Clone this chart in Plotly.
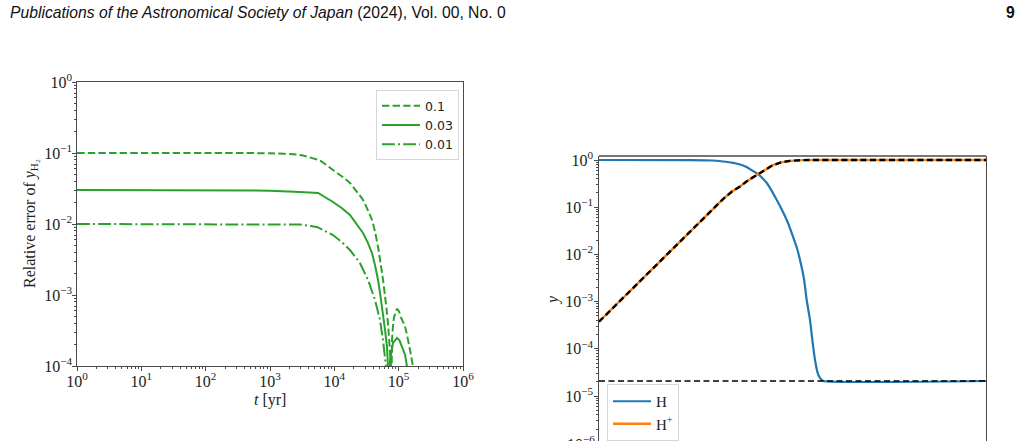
import plotly.graph_objects as go

# ---------------- data: left panel (relative error of y_H2) ----------------
t_01 = [1, 100, 1000, 2930, 5990, 9530, 13000, 17500, 22000, 27900, 33000, 38500, 43000, 47800,
        52000, 57100, 61500, 65900, 70000, 73400, 76000, 77000, 77500, 78900, 84700, 94300,
        101000, 109000, 126000, 150000, 167000, 185000]
err_01 = [0.1, 0.1, 0.099, 0.0937, 0.078, 0.0577, 0.047, 0.0378, 0.029, 0.0218, 0.0158, 0.0114,
          0.0077, 0.00474, 0.0029, 0.00163, 9.5e-4, 5.58e-4, 2.9e-4, 1.52e-4, 9.7e-5, 1e-7, 1e-7,
          2.32e-4, 4.8e-4, 6.35e-4, 5.9e-4, 4.8e-4, 3.54e-4, 1.68e-4, 9.7e-5, 5e-5]

t_003 = [1, 1000, 2930, 5600, 9530, 13000, 17500, 22000, 27900, 33000, 38500, 43000, 47800,
         52000, 57100, 61500, 65900, 68300, 69000, 69500, 73400, 81700, 94300, 103000, 113000,
         126000, 135000, 150000]
err_003 = [0.03, 0.0295, 0.0282, 0.0274, 0.0204, 0.0168, 0.0134, 0.0102, 0.00747, 0.0055, 0.00391,
           0.0026, 0.00163, 0.00098, 5.58e-4, 3.2e-4, 1.85e-4, 9.7e-5, 1e-7, 1e-7, 1.22e-4,
           2.11e-4, 2.48e-4, 2.3e-4, 1.85e-4, 1.43e-4, 9.7e-5, 5e-5]

t_001 = [1, 1000, 2930, 5380, 9530, 13000, 17500, 25000, 33400, 42900, 51300, 57100, 63600, 64500]
err_001 = [0.01, 0.0099, 0.0098, 0.00908, 0.0070, 0.0056, 0.0043, 0.00282, 0.00163, 8.51e-4,
           4.45e-4, 2.32e-4, 9.7e-5, 1e-7]

left_labels = ["0.1", "0.03", "0.01"]

# ---------------- data: right panel (abundances) ----------------
t_hp = [1, 302, 457, 661, 955, 1445, 2089, 3020, 4365, 6607, 12023, 26300, 5.5e7]
y_hp = [3.75e-4, 0.148, 0.215, 0.275, 0.37, 0.48, 0.62, 0.78, 0.89, 0.96, 0.995, 1.0, 1.0]

t_h = [1, 66.1, 182, 302, 457, 661, 912, 1047, 1514, 2291, 3311, 4571, 6026, 7586, 9120, 10470,
       12590, 14256, 16596, 18793, 20893, 23659, 27164, 30620, 5.5e7]
y_h = [1.0, 0.995, 0.975, 0.93, 0.88, 0.80, 0.70, 0.64, 0.50, 0.321, 0.167, 0.0873, 0.0463,
       0.0237, 0.0135, 7.6e-3, 3.0e-3, 1.08e-3, 4.08e-4, 1.33e-4, 5.8e-5, 3.07e-5, 2.29e-5,
       2.08e-5, 2.08e-5]

t_eq = [1, 5.5e7]
y_eq = [2.08e-5, 2.08e-5]

decade_exps_left_y = [0, -1, -2, -3, -4]
decade_exps_left_x = [0, 1, 2, 3, 4, 5, 6]
decade_exps_right_y = [0, -1, -2, -3, -4, -5]

GREEN = "#2ca02c"
BLUE = "#1f77b4"
ORANGE = "#ff7f0e"
SERIF = "Liberation Serif"
FRAME = "#4a4a4a"


def pow_label(e):
    return "10<sup>" + (str(e) if e >= 0 else "\u2212" + str(-e)) + "</sup>"


def minor_vals(lo, hi):
    vals = []
    for d in range(lo, hi):
        for m in range(2, 10):
            vals.append(m * 10.0 ** d)
    return vals


fig = go.Figure()

# left panel traces
fig.add_trace(go.Scatter(x=t_01, y=err_01, mode="lines", name=left_labels[0],
                         line=dict(color=GREEN, width=2, dash="7.4px,3.2px", shape="spline", smoothing=0.6),
                         xaxis="x", yaxis="y", legend="legend"))
fig.add_trace(go.Scatter(x=t_003, y=err_003, mode="lines", name=left_labels[1],
                         line=dict(color=GREEN, width=2),
                         xaxis="x", yaxis="y", legend="legend"))
fig.add_trace(go.Scatter(x=t_001, y=err_001, mode="lines", name=left_labels[2],
                         line=dict(color=GREEN, width=2, dash="12.8px,3.2px,2px,3.2px"),
                         xaxis="x", yaxis="y", legend="legend"))

# right panel traces
fig.add_trace(go.Scatter(x=t_h, y=y_h, mode="lines", name="H",
                         line=dict(color=BLUE, width=2.2, shape="spline", smoothing=0.5),
                         xaxis="x2", yaxis="y2", legend="legend2"))
fig.add_trace(go.Scatter(x=t_hp, y=y_hp, mode="lines", name="H<sup>+</sup>",
                         line=dict(color=ORANGE, width=2.4),
                         xaxis="x2", yaxis="y2", legend="legend2"))
fig.add_trace(go.Scatter(x=t_hp, y=y_hp, mode="lines", showlegend=False,
                         line=dict(color="black", width=2.4, dash="6px,3.5px"),
                         xaxis="x2", yaxis="y2"))
fig.add_trace(go.Scatter(x=t_eq, y=y_eq, mode="lines", showlegend=False,
                         line=dict(color="black", width=1.5, dash="6px,3.5px"),
                         xaxis="x2", yaxis="y2"))

W, H = 1021, 441
tickfont = dict(family=SERIF, size=16, color="#222")

fig.update_layout(
    width=W, height=H,
    margin=dict(l=0, r=0, t=0, b=0, autoexpand=False),
    paper_bgcolor="white", plot_bgcolor="white",
    xaxis=dict(
        type="log", domain=[77 / W, 463 / W], range=[0, 6], anchor="y", automargin=False,
        tickmode="array", tickvals=[10.0 ** e for e in decade_exps_left_x],
        ticktext=[pow_label(e) for e in decade_exps_left_x],
        ticks="outside", ticklen=3.5, tickwidth=0.9, tickcolor=FRAME, ticklabelstandoff=-3,
        minor=dict(tickmode="array", tickvals=minor_vals(0, 6), ticks="outside",
                   ticklen=2, tickwidth=0.7, tickcolor=FRAME, showgrid=False),
        showline=True, mirror=True, linecolor=FRAME, linewidth=1.3,
        showgrid=False, zeroline=False, tickfont=tickfont,
    ),
    yaxis=dict(
        type="log", domain=[(H - 366) / H, (H - 82) / H], range=[-4, 0], anchor="x", automargin=False,
        tickmode="array", tickvals=[10.0 ** e for e in decade_exps_left_y],
        ticktext=[pow_label(e) for e in decade_exps_left_y],
        ticks="outside", ticklen=3.5, tickwidth=0.9, tickcolor=FRAME, ticklabelstandoff=-3,
        minor=dict(tickmode="array", tickvals=minor_vals(-4, 0), ticks="outside",
                   ticklen=2, tickwidth=0.7, tickcolor=FRAME, showgrid=False),
        showline=True, mirror=True, linecolor=FRAME, linewidth=1.3,
        showgrid=False, zeroline=False, tickfont=tickfont,
    ),
    xaxis2=dict(
        type="log", domain=[599 / W, 986 / W], range=[0, 7.74], anchor="y2", automargin=False,
        showline=False, ticks="", showticklabels=False, showgrid=False, zeroline=False,
    ),
    yaxis2=dict(
        type="log", domain=[0, (H - 156) / H], range=[-5.953, 0.0847], anchor="x2", automargin=False,
        tickmode="array", tickvals=[10.0 ** e for e in decade_exps_right_y],
        ticktext=[pow_label(e) for e in decade_exps_right_y],
        ticks="outside", ticklen=3.5, tickwidth=0.9, tickcolor=FRAME, ticklabelstandoff=-2,
        minor=dict(tickmode="array", tickvals=minor_vals(-6, 0), ticks="outside",
                   ticklen=2, tickwidth=0.7, tickcolor=FRAME, showgrid=False),
        showline=True, mirror=True, linecolor=FRAME, linewidth=1.3,
        showgrid=False, zeroline=False, tickfont=tickfont,
    ),
    legend=dict(
        x=376 / W, y=(H - 90) / H, xanchor="left", yanchor="top",
        bgcolor="white", bordercolor="#d6d6d6", borderwidth=1,
        font=dict(family="DejaVu Sans", size=12.5, color="#222"),
        tracegroupgap=0, itemwidth=38,
    ),
    legend2=dict(
        x=607 / W, y=(H - 384) / H, xanchor="left", yanchor="top",
        bgcolor="white", bordercolor="#d6d6d6", borderwidth=1,
        font=dict(family=SERIF, size=15, color="#222"),
        tracegroupgap=0, itemwidth=38,
    ),
    showlegend=True,
)

# top spine of right panel (its bottom lies below the page edge)
fig.add_shape(type="line", xref="x2 domain", yref="y2 domain", x0=0, x1=1, y0=1, y1=1,
              line=dict(color=FRAME, width=1.3))

# header, titles and partially visible label
fig.add_annotation(x=8 / W, y=(H - 12) / H, xref="paper", yref="paper",
                   xanchor="left", yanchor="middle", showarrow=False,
                   text="<i>Publications of the Astronomical Society of Japan</i> (2024), Vol. 00, No. 0",
                   font=dict(family="Liberation Sans", size=15.7, color="#111"))
fig.add_annotation(x=1010 / W, y=(H - 12) / H, xref="paper", yref="paper",
                   xanchor="center", yanchor="middle", showarrow=False,
                   text="<b>9</b>", font=dict(family="Liberation Sans", size=15.7, color="#111"))
fig.add_annotation(x=30 / W, y=(H - 224) / H, xref="paper", yref="paper",
                   xanchor="center", yanchor="middle", showarrow=False, textangle=-90,
                   text="Relative error of <i>y</i><sub>H\u2082</sub>",
                   font=dict(family=SERIF, size=16, color="#222"))
fig.add_annotation(x=270 / W, y=(H - 400) / H, xref="paper", yref="paper",
                   xanchor="center", yanchor="middle", showarrow=False,
                   text="<i>t</i> [yr]", font=dict(family=SERIF, size=16, color="#222"))
fig.add_annotation(x=553 / W, y=(H - 300) / H, xref="paper", yref="paper",
                   xanchor="center", yanchor="middle", showarrow=False, textangle=-90,
                   text="<i>y</i>", font=dict(family=SERIF, size=16, color="#222"))
fig.add_annotation(x=597 / W, y=(H - 443) / H, xref="paper", yref="paper",
                   xanchor="right", yanchor="middle", showarrow=False,
                   text=pow_label(-6), font=tickfont)

fig.write_html("out.html")
